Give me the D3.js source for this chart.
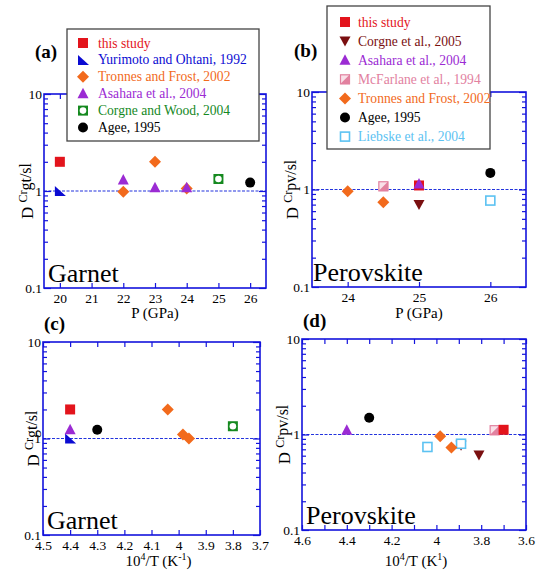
<!DOCTYPE html>
<html>
<head>
<meta charset="utf-8">
<script src="https://cdn.jsdelivr.net/npm/d3@7"></script>
<style>
body{margin:0;background:#fff;}
</style>
</head>
<body>
<div id="canvas"></div>
<script>
var width = 540;
var height = 571;
var serif = "Liberation Serif";

// ---- data: D(Cr) mineral / silicate liquid ----
// (a) garnet vs pressure (GPa)
var gtThisP       = [[20, 2.0]];
var gtYurimotoP   = [[20, 1.0]];
var gtTronnesP    = [[22, 0.98], [23, 2.0], [24, 1.06]];
var gtAsaharaP    = [[22, 1.3], [23, 1.08], [24, 1.08]];
var gtCorgneWoodP = [[25, 1.33]];
var gtAgeeP       = [[26, 1.22]];

// (b) perovskite vs pressure (GPa)
var pvTronnesP   = [[24, 0.96], [24.5, 0.74]];
var pvMcFarlaneP = [[24.5, 1.08]];
var pvThisP      = [[25, 1.1]];
var pvAsaharaP   = [[25, 1.14]];
var pvCorgneP    = [[25, 0.70]];
var pvAgeeP      = [[26, 1.48]];
var pvLiebskeP   = [[26, 0.77]];

// (c) garnet vs 10^4/T
var gtThisT       = [[4.4, 2.0]];
var gtYurimotoT   = [[4.4, 1.0]];
var gtAsaharaT    = [[4.4, 1.23]];
var gtAgeeT       = [[4.3, 1.23]];
var gtTronnesT    = [[4.04, 2.0], [3.984, 1.1], [3.962, 1.0]];
var gtCorgneWoodT = [[3.8, 1.34]];

// (d) perovskite vs 10^4/T
var pvAsaharaT   = [[4.4, 1.11]];
var pvAgeeT      = [[4.3, 1.5]];
var pvCorgneT    = [[3.89, 0.77], [3.81, 0.61]];
var pvLiebskeT   = [[4.04, 0.74], [3.89, 0.80]];
var pvTronnesT   = [[3.983, 0.96], [3.933, 0.73]];
var pvMcFarlaneT = [[3.74, 1.11]];
var pvThisT      = [[3.70, 1.12]];

// ticks
var yMajor = [0.1, 1, 10];
var yMinor = [0.2,0.3,0.4,0.5,0.6,0.7,0.8,0.9,2,3,4,5,6,7,8,9];
var xTicksA = [20, 21, 22, 23, 24, 25, 26];
var xTicksB = [24, 25, 26];
var xTicksC = [4.5, 4.4, 4.3, 4.2, 4.1, 4.0, 3.9, 3.8, 3.7];
var xTicksD = [4.6, 4.5, 4.4, 4.3, 4.2, 4.1, 4.0, 3.9, 3.8, 3.7, 3.6];
var xLabelsD = [4.6, 4.4, 4.2, 4.0, 3.8, 3.6];

// legends
var legendA = ["thisStudy","yurimoto","tronnes","asahara","corgneWood","agee"];
var legendB = ["thisStudy","corgne05","asahara","mcfarlane","tronnes","agee","liebske"];

var names = {
	thisStudy:"this study",
	yurimoto:"Yurimoto and Ohtani, 1992",
	tronnes:"Tronnes and Frost, 2002",
	asahara:"Asahara et al., 2004",
	corgneWood:"Corgne and Wood, 2004",
	agee:"Agee, 1995",
	corgne05:"Corgne et al., 2005",
	mcfarlane:"McFarlane et al., 1994",
	liebske:"Liebske et al., 2004"
};
var colors = {
	thisStudy:"#e3141c",
	yurimoto:"#0b0bd2",
	tronnes:"#f26a1c",
	asahara:"#9b2bd3",
	corgneWood:"#15891f",
	agee:"#000000",
	corgne05:"#7a0f10",
	mcfarlane:"#e2819f",
	liebske:"#5cc2f2"
};
var shapes = {
	thisStudy:"square", yurimoto:"rtri", tronnes:"diamond", asahara:"triUp",
	corgneWood:"sqCircle", agee:"circle", corgne05:"triDown", mcfarlane:"halfSq", liebske:"openSq"
};

var axisBlue = "#1313dd";

var svg = d3.select("#canvas").append("svg")
	.attr("width", width).attr("height", height)
	.style("font-family", serif);

var marker = function(parent, key, cx, cy){
	var g = parent.append("g").attr("transform","translate("+cx+","+cy+")");
	var c = colors[key];
	var s = 5;
	switch(shapes[key]){
	case "square":
		g.append("rect").attr("x",-s).attr("y",-s).attr("width",2*s).attr("height",2*s).attr("fill",c);
		break;
	case "rtri":
		g.append("path").attr("d","M-5,-5L-5,5L6,5Z").attr("fill",c);
		break;
	case "diamond":
		g.append("path").attr("d","M0,-6L6,0L0,6L-6,0Z").attr("fill",c);
		break;
	case "triUp":
		g.append("path").attr("d","M0,-6L5.5,4.5L-5.5,4.5Z").attr("fill",c);
		break;
	case "triDown":
		g.append("path").attr("d","M0,5.5L5.5,-4.5L-5.5,-4.5Z").attr("fill",c);
		break;
	case "circle":
		g.append("circle").attr("r",5).attr("fill",c);
		break;
	case "sqCircle":
		g.append("rect").attr("x",-s).attr("y",-s).attr("width",2*s).attr("height",2*s).attr("fill",c);
		g.append("circle").attr("r",3.3).attr("fill","#fff");
		break;
	case "openSq":
		g.append("rect").attr("x",-4.5).attr("y",-4.5).attr("width",9).attr("height",9)
			.attr("fill","#fff").attr("stroke",c).attr("stroke-width",1.6);
		break;
	case "halfSq":
		g.append("rect").attr("x",-4.5).attr("y",-4.5).attr("width",9).attr("height",9)
			.attr("fill","#f9e0e8").attr("stroke",c).attr("stroke-width",1.2);
		g.append("path").attr("d","M5,-5L5,5L-5,5Z").attr("fill",c);
		break;
	}
	return g;
}

var drawPanel = function(p){
	var x = d3.scaleLinear().domain(p.xDomain).range([p.left, p.right]);
	var y = d3.scaleLog().domain([0.1, 10]).range([p.bottom, p.top]);
	var g = svg.append("g");
	var w = p.right - p.left;
	var h = p.bottom - p.top;

	// reference line at D = 1
	g.append("line")
		.attr("x1",p.left).attr("x2",p.right)
		.attr("y1",y(1)).attr("y2",y(1))
		.attr("stroke","#2233dd").attr("stroke-width",1.2)
		.attr("stroke-dasharray","3,1.5");

	// y axes, ticks pointing inward on both sides
	g.append("g").attr("transform","translate("+p.left+",0)")
		.call(d3.axisLeft(y).tickValues(yMajor).tickSize(-7).tickPadding(2)
			.tickFormat(function(d){ return d<1 ? "0.1" : String(d); }));
	g.append("g").attr("transform","translate("+p.left+",0)")
		.call(d3.axisLeft(y).tickValues(yMinor).tickSize(-4).tickFormat(""));
	g.append("g").attr("transform","translate("+p.right+",0)")
		.call(d3.axisRight(y).tickValues(yMajor).tickSize(-7).tickFormat(""));
	g.append("g").attr("transform","translate("+p.right+",0)")
		.call(d3.axisRight(y).tickValues(yMinor).tickSize(-4).tickFormat(""));

	// x axes
	g.append("g").attr("transform","translate(0,"+p.bottom+")")
		.call(d3.axisBottom(x).tickValues(p.xTicks).tickSize(-5).tickPadding(5)
			.tickFormat(function(d){
				if(p.xLabels && p.xLabels.indexOf(d) < 0) return "";
				return String(+d.toFixed(1));
			}));
	g.append("g").attr("transform","translate(0,"+p.top+")")
		.call(d3.axisTop(x).tickValues(p.xTicks).tickSize(-5).tickFormat(""));

	g.selectAll(".domain").remove();
	g.selectAll("g").attr("font-family", serif);
	g.selectAll(".tick line").attr("stroke",axisBlue).attr("stroke-width",1.2);
	g.selectAll(".tick text").attr("fill","#000")
		.style("font-family", serif).style("font-size","13.5px");

	// frame
	g.append("rect").attr("x",p.left).attr("y",p.top).attr("width",w).attr("height",h)
		.attr("fill","none").attr("stroke",axisBlue).attr("stroke-width",1.6);

	// points
	p.series.forEach(function(s){
		s.data.forEach(function(d){
			marker(g, s.key, x(d[0]), y(d[1]));
		});
	});

	// mineral name
	g.append("text").attr("x",p.nameX).attr("y",p.bottom-6)
		.style("font-family", serif).style("font-size","26px").text(p.mineral);

	// panel letter
	g.append("text").attr("x",p.letterX).attr("y",p.letterY)
		.style("font-family", serif).style("font-size","19px").style("font-weight","bold").text(p.letter);

	// y title
	var yt = g.append("text")
		.attr("transform","translate("+p.yTitleX+","+(p.top+h/2)+") rotate(-90)")
		.attr("text-anchor","middle").style("font-family", serif).style("font-size","17px");
	yt.append("tspan").text("D ");
	yt.append("tspan").attr("dy",-6).style("font-size","12px").text("Cr");
	yt.append("tspan").attr("dy",4).style("font-size","16px").text(p.sub);

	// x title
	var xt = g.append("text").attr("x",p.left+w/2+p.xTitleShift).attr("y",p.xTitleY)
		.attr("text-anchor","middle").style("font-family", serif).style("font-size","15px");
	if(p.xTitle=="P"){
		xt.text("P (GPa)");
	}else{
		xt.append("tspan").text("10");
		xt.append("tspan").attr("dy",-6).style("font-size","10px").text("4");
		xt.append("tspan").attr("dy",6).text("/T (K");
		xt.append("tspan").attr("dy",-6).style("font-size","10px").text(p.expo);
		xt.append("tspan").attr("dy",6).text(")");
	}
}

var drawLegend = function(keys, lx, ly, lw, lh, row0, step, mx, tx){
	var g = svg.append("g");
	g.append("rect").attr("x",lx).attr("y",ly).attr("width",lw).attr("height",lh)
		.attr("fill","#fff").attr("stroke","#444").attr("stroke-width",1.3);
	keys.forEach(function(k,i){
		var cy = row0 + i*step;
		marker(g, k, mx, cy);
		g.append("text").attr("x",tx).attr("y",cy+4.5)
			.attr("fill",colors[k]).style("font-family", serif).style("font-size","13.6px").text(names[k]);
	});
}

drawPanel({
	left:44, right:266, top:94, bottom:288, xDomain:[19.5,26.5], xTicks:xTicksA,
	mineral:"Garnet", nameX:48, letter:"(a)", letterX:35, letterY:58,
	yTitleX:33, sub:"gt/sl", xTitle:"P", xTitleY:318, xTitleShift:0,
	series:[
		{key:"thisStudy", data:gtThisP},
		{key:"yurimoto", data:gtYurimotoP},
		{key:"tronnes", data:gtTronnesP},
		{key:"asahara", data:gtAsaharaP},
		{key:"corgneWood", data:gtCorgneWoodP},
		{key:"agee", data:gtAgeeP}
	]
});

drawPanel({
	left:312, right:526, top:92, bottom:287, xDomain:[23.5,26.5], xTicks:xTicksB,
	mineral:"Perovskite", nameX:313, letter:"(b)", letterX:294, letterY:57,
	yTitleX:298, sub:"pv/sl", xTitle:"P", xTitleY:318, xTitleShift:0,
	series:[
		{key:"tronnes", data:pvTronnesP},
		{key:"mcfarlane", data:pvMcFarlaneP},
		{key:"thisStudy", data:pvThisP},
		{key:"asahara", data:pvAsaharaP},
		{key:"corgne05", data:pvCorgneP},
		{key:"agee", data:pvAgeeP},
		{key:"liebske", data:pvLiebskeP}
	]
});

drawPanel({
	left:43, right:260, top:342, bottom:535, xDomain:[4.5,3.7], xTicks:xTicksC,
	mineral:"Garnet", nameX:47, letter:"(c)", letterX:44, letterY:330,
	yTitleX:39, sub:"gt/sl", xTitle:"T", expo:"-1", xTitleY:566, xTitleShift:7,
	series:[
		{key:"thisStudy", data:gtThisT},
		{key:"yurimoto", data:gtYurimotoT},
		{key:"asahara", data:gtAsaharaT},
		{key:"agee", data:gtAgeeT},
		{key:"tronnes", data:gtTronnesT},
		{key:"corgneWood", data:gtCorgneWoodT}
	]
});

drawPanel({
	left:302, right:526, top:339, bottom:530, xDomain:[4.6,3.6], xTicks:xTicksD, xLabels:xLabelsD,
	mineral:"Perovskite", nameX:306, letter:"(d)", letterX:303, letterY:327,
	yTitleX:290, sub:"pv/sl", xTitle:"T", expo:"1", xTitleY:566, xTitleShift:2,
	series:[
		{key:"asahara", data:pvAsaharaT},
		{key:"agee", data:pvAgeeT},
		{key:"corgne05", data:pvCorgneT},
		{key:"liebske", data:pvLiebskeT},
		{key:"tronnes", data:pvTronnesT},
		{key:"mcfarlane", data:pvMcFarlaneT},
		{key:"thisStudy", data:pvThisT}
	]
});

drawLegend(legendA, 67, 29, 192, 112, 43, 16.9, 83, 98);
drawLegend(legendB, 327, 6, 163, 143, 22, 19.1, 345, 358);
</script>
</body>
</html>
